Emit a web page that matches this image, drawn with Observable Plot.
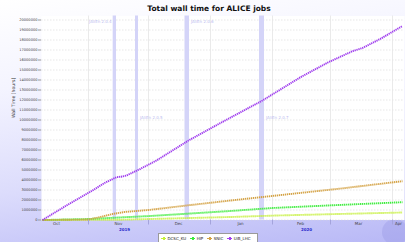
<!DOCTYPE html>
<html>
<head>
<meta charset="utf-8">
<script src="https://cdn.jsdelivr.net/npm/d3@7"></script>
<script src="https://cdn.jsdelivr.net/npm/@observablehq/plot@0.6"></script>
<style>
  html, body { margin: 0; padding: 0; }
  #wrap {
    position: relative; width: 405px; height: 242px; overflow: hidden;
    background: linear-gradient(172deg, #ffffff 0%, #f4f4ff 30%, #dcdcfc 65%, #b8b8f6 100%);
    font-family: "DejaVu Sans", sans-serif;
  }
  #title {
    position: absolute; top: 4px; left: 209px; transform: translateX(-50%);
    font-weight: bold; font-size: 7.5px; color: #111; white-space: nowrap;
  }
  #logo {
    position: absolute; left: 382px; top: 219px; width: 26px; height: 26px;
    border-radius: 50%; background: rgba(150,150,225,0.35);
  }
  #legend {
    position: absolute; left: 158px; top: 233px; width: 100px; height: 12px;
    background: #fff; border: 1px solid #9a9a9a; box-sizing: border-box;
    font-size: 4px; color: #222; white-space: nowrap; padding: 1.5px 0 0 2px;
  }
  #legend .it { display: inline-block; margin-right: 4px; }
  #legend .mk { display: inline-block; width: 5px; height: 1.5px; vertical-align: middle; margin-right: 1.5px; position: relative; }
  #legend .mk::after { content: ""; position: absolute; left: 1.5px; top: -1px; width: 2px; height: 3.5px; background: inherit; }
  svg { position: absolute; left: 0; top: 0; }
</style>
</head>
<body>
<div id="wrap">
  <div id="logo"></div>
  <div id="chart"></div>
  <div id="title">Total wall time for ALICE jobs</div>
  <div id="legend"></div>
</div>
<script>
// ---- data ----
const seriesNames = ["DCSC_KU", "HIP", "SNIC", "UiB_LHC"];
const seriesColors = ["#c6f03c", "#3cec3c", "#d4a244", "#a040ee"];

const dcscDates = ["2019-10-09","2019-11-16","2019-12-02","2020-01-11","2020-02-03","2020-03-05","2020-04-06"];
const dcscValues = [0, 20000, 100000, 300000, 450000, 600000, 750000];

const hipDates = ["2019-10-09","2019-11-01","2019-11-16","2019-12-02","2020-01-11","2020-02-01","2020-03-05","2020-04-06"];
const hipValues = [0, 100000, 250000, 400000, 900000, 1200000, 1500000, 1780000];

const snicDates = ["2019-10-09","2019-11-01","2019-11-07","2019-11-13","2019-11-19","2019-12-02","2019-12-20","2020-01-11","2020-02-03","2020-03-05","2020-04-06"];
const snicValues = [0, 50000, 300000, 600000, 800000, 1020000, 1450000, 1950000, 2450000, 3120000, 3880000];

const uibDates = ["2019-10-09","2019-10-21","2019-11-03","2019-11-09","2019-11-15","2019-11-18","2019-11-20","2019-11-27","2019-12-05","2019-12-21","2020-01-06","2020-01-27","2020-02-15","2020-02-29","2020-03-12","2020-03-17","2020-03-26","2020-04-06"];
const uibValues = [0, 1450000, 2950000, 3700000, 4280000, 4350000, 4450000, 5120000, 5950000, 7950000, 9700000, 11950000, 14280000, 15780000, 16880000, 17200000, 18120000, 19400000];

const bandNames = ["JAliEn 2.0.4", "JAliEn 2.0.5", "JAliEn 2.0.6", "JAliEn 2.0.7"];
const bandStarts = ["2019-11-13T08:00Z", "2019-11-24T12:00Z", "2019-12-19T06:00Z", "2020-01-25T12:00Z"];
const bandEnds   = ["2019-11-15T00:00Z", "2019-11-26T00:00Z", "2019-12-21T12:00Z", "2020-01-28T00:00Z"];

const monthStarts = ["2019-11-01","2019-12-01","2020-01-01","2020-02-01","2020-03-01","2020-04-01"];
const monthLabels = ["Oct","Nov","Dec","Jan","Feb","Mar","Apr"];
const monthLabelDates = ["2019-10-16","2019-11-16","2019-12-16","2020-01-16","2020-02-15","2020-03-15","2020-04-04"];
const yearLabels = ["2019", "2020"];
const yearLabelDates = ["2019-11-19", "2020-02-18"];
const yTicks = d3.range(0, 20000001, 1000000);
const xDomain = ["2019-10-08T12:00Z", "2020-04-07T00:00Z"];
const yDomain = [0, 20400000];

// ---- build tables ----
const P = s => new Date(s.length === 10 ? s + "T00:00Z" : s);
const rows = [];
[[dcscDates, dcscValues], [hipDates, hipValues], [snicDates, snicValues], [uibDates, uibValues]].forEach(([ds, vs], i) => {
  ds.forEach((d, j) => rows.push({series: seriesNames[i], date: P(d), value: vs[j]}));
});
const bands = bandNames.map((n, i) => ({name: n, start: P(bandStarts[i]), end: P(bandEnds[i])}));
const months = monthLabels.map((m, i) => ({label: m, date: P(monthLabelDates[i])}));
const years = yearLabels.map((y, i) => ({label: y, date: P(yearLabelDates[i])}));

const lineMarks = seriesNames.map((s, i) =>
  Plot.line(rows.filter(r => r.series === s), {
    x: "date", y: "value", stroke: seriesColors[i], strokeWidth: 1.9,
    strokeDasharray: "1.3,0.7", strokeLinejoin: "miter", strokeLinecap: "butt"
  })
);

const chart = Plot.plot({
  width: 405, height: 242,
  marginLeft: 41, marginRight: 1, marginTop: 15.5, marginBottom: 22.5,
  style: {background: "transparent", fontFamily: "DejaVu Sans, sans-serif", overflow: "visible"},
  x: {type: "utc", domain: xDomain.map(P)},
  y: {domain: yDomain},
  marks: [
    Plot.frame({fill: "white"}),
    Plot.gridY(yTicks, {stroke: "#d6d6d6", strokeDasharray: "1.5,1.5", strokeOpacity: 1, strokeWidth: 0.6}),
    Plot.gridX(monthStarts.map(P), {stroke: "#e4e4e4", strokeOpacity: 1, strokeWidth: 0.8}),
    Plot.rect(bands, {x1: "start", x2: "end", fill: "#d4d4f8", fillOpacity: 1}),
    Plot.text(bands.filter((d, i) => i === 0), {x: "start", text: "name", frameAnchor: "top", dy: 4.5, dx: -1.5, textAnchor: "end", fontSize: 4, fill: "#bcbcf0"}),
    Plot.text(bands.filter((d, i) => i === 2), {x: "end", text: "name", frameAnchor: "top", dy: 4.5, dx: 1.5, textAnchor: "start", fontSize: 4, fill: "#bcbcf0"}),
    Plot.text(bands.filter((d, i) => i === 1 || i === 3), {x: "end", text: "name", frameAnchor: "middle", dx: 1.5, textAnchor: "start", fontSize: 4, fill: "#bcbcf0"}),
    ...lineMarks,
    Plot.axisY(yTicks, {tickFormat: d => String(d), fontSize: 3.6, tickSize: 3, tickPadding: 1, label: null, color: "#444", stroke: "#999"}),
    Plot.axisX(monthStarts.map(P), {tickSize: 5, tickFormat: () => "", label: null, stroke: "#a4a4dc"}),
    Plot.text(months, {x: "date", text: "label", frameAnchor: "bottom", lineAnchor: "top", dy: 2.5, fontSize: 4, fill: "#444"}),
    Plot.text(years, {x: "date", text: "label", frameAnchor: "bottom", lineAnchor: "top", dy: 8.5, fontSize: 4, fontWeight: "bold", fill: "#2a2acc"}),
    Plot.text(["Wall Time [hours]"], {frameAnchor: "left", dx: -28, rotate: -90, fontSize: 4.6, fill: "#333"})
  ]
});
document.getElementById("chart").appendChild(chart);

// legend
const lg = document.getElementById("legend");
seriesNames.forEach((s, i) => {
  const it = document.createElement("span");
  it.className = "it";
  const mk = document.createElement("span");
  mk.className = "mk";
  mk.style.background = seriesColors[i];
  it.appendChild(mk);
  it.appendChild(document.createTextNode(s));
  lg.appendChild(it);
});
</script>
</body>
</html>
